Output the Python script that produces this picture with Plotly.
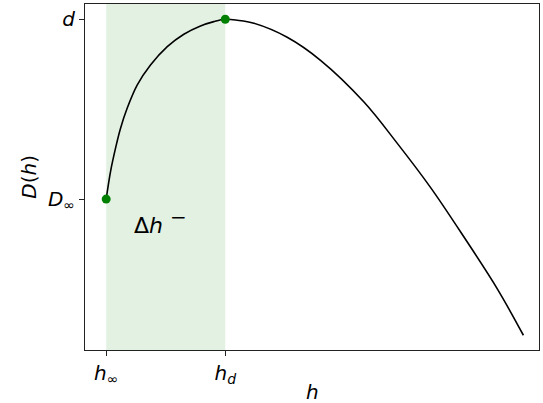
import plotly.graph_objects as go

# Curve D(h) (h_inf = 0, h_d = 1, D_inf = 0, d = 1)
h = [0.0, 0.036, 0.078, 0.12, 0.176, 0.26, 0.372, 0.513, 0.652, 0.792, 0.904, 1.0,
     1.1, 1.24, 1.52, 1.80, 2.165, 2.445, 2.725, 3.005, 3.286, 3.504]
D = [0.0, 0.152, 0.282, 0.393, 0.505, 0.634, 0.746, 0.848, 0.917, 0.963, 0.987, 1.0,
     0.995, 0.978, 0.900, 0.772, 0.540, 0.310, 0.064, -0.211, -0.500, -0.757]

# Marked points
h_marks = [0.0, 1.0]
D_marks = [0.0, 1.0]

x_ticks = [0.0, 1.0]
x_labels = ['<i>h</i><sub>∞</sub>', '<i>h</i><sub><i>d</i></sub>']
y_ticks = [0.0, 1.0]
y_labels = ['<i>D</i><sub>∞</sub>', '<i>d</i>']

FONT = 'DejaVu Sans'

fig = go.Figure()

fig.add_trace(go.Scatter(
    x=h,
    y=D,
    mode='lines',
    line=dict(color='black', width=1.6, shape='spline', smoothing=1.0),
    hoverinfo='skip',
))

fig.add_trace(go.Scatter(
    x=h_marks,
    y=D_marks,
    mode='markers',
    marker=dict(color='green', size=9),
    hoverinfo='skip',
))

# Shaded span between h_inf and h_d
fig.add_shape(
    type='rect',
    xref='x', yref='paper',
    x0=h_marks[0], x1=h_marks[1], y0=0, y1=1,
    fillcolor='rgba(0,128,0,0.11)',
    line=dict(width=0),
    layer='below',
)

fig.add_annotation(
    x=0.46, y=-0.122,
    text='Δ<i>h</i> <sup><span style="font-size:20px">−</span></sup>',
    showarrow=False,
    font=dict(family=FONT, size=22, color='black'),
)

# Axis titles placed as annotations
fig.add_annotation(
    x=0.5, y=-0.12, xref='paper', yref='paper',
    text='<i>h</i>', showarrow=False,
    xanchor='center', yanchor='middle',
    font=dict(family=FONT, size=20, color='black'),
)
fig.add_annotation(
    x=-0.124, y=0.50, xref='paper', yref='paper',
    text='<i>D</i>(<i>h</i>)', showarrow=False, textangle=-90,
    xanchor='center', yanchor='middle',
    font=dict(family=FONT, size=20, color='black'),
)

axis_common = dict(
    showline=True,
    linecolor='#222222',
    linewidth=1,
    mirror=True,
    showgrid=False,
    zeroline=False,
    automargin=False,
    ticks='outside',
    ticklen=5,
    tickwidth=1,
    tickcolor='#222222',
    tickfont=dict(family=FONT, size=20, color='black'),
)

fig.update_layout(
    width=543,
    height=403,
    margin=dict(l=85, r=4, t=4, b=53),
    paper_bgcolor='white',
    plot_bgcolor='white',
    showlegend=False,
    xaxis=dict(
        axis_common,
        range=[-0.178, 3.635],
        tickvals=x_ticks,
        ticktext=x_labels,
    ),
    yaxis=dict(
        axis_common,
        range=[-0.839, 1.085],
        tickvals=y_ticks,
        ticktext=y_labels,
    ),
)

config = {'displayModeBar': False}

# drop the page's default body margin so the figure sits at the window corner
fig.write_html('out.html', config=config,
               post_script="document.body.style.margin = '0';")
